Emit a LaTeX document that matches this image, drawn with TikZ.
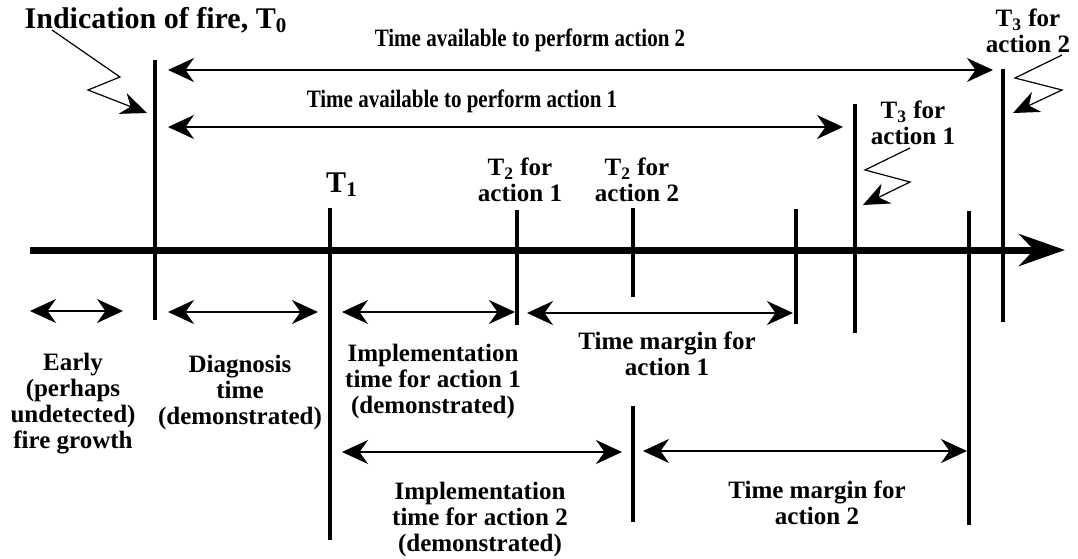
\documentclass[tikz,border=0pt]{standalone}
\usepackage{fontspec}
\setmainfont{Liberation Serif}
\usetikzlibrary{arrows.meta, positioning}

\begin{document}
\begin{tikzpicture}[x=0.5pt, y=-0.5pt]
  \tikzset{
    timeaxis/.style={
      line width=3.5pt,
      -{Stealth[length=23pt, width=16pt]}
    },
    tickline/.style={
      line width=2pt
    },
    timespan/.style={
      line width=0.8pt,
      {Stealth[length=13pt, width=12pt]}-{Stealth[length=13pt, width=12pt]}
    },
    zigzag/.style={
      line width=0.6pt,
      -{Stealth[length=13pt, width=11pt]}
    },
    txt/.style={
      font=\bfseries\fontsize{12.5}{13}\selectfont,
      align=center,
      inner sep=0pt
    },
    bigtxt/.style={
      font=\bfseries\fontsize{15}{18}\selectfont,
      inner sep=0pt
    }
  }
  \useasboundingbox (0,0) rectangle (1078,558);

  % Draw the time line
  \coordinate (axL) at (30,250);
  \coordinate (axR) at (1065,250);
  \draw[timeaxis] (axL) -- (axR);

  % Tick marks
  \foreach \x/\top/\bot in {155/60/320, 330/208/540, 517/210/325, 633/208/297,
      796/209/324, 855/104/333, 969/211/525, 1003/69/322, 633/406/522} {
    \draw[tickline] (\x,\top) -- (\x,\bot);
  }

  % Labels above the time line
  \node[bigtxt] at (156,20) (fire) {Indication of fire, T\textsubscript{0}};
  \node[txt] at (530,40) (avail2) {\scalebox{0.84}[1]{Time available to perform action 2}};
  \node[txt] at (462,101) (avail1) {\scalebox{0.84}[1]{Time available to perform action 1}};
  \node[txt] at (1028,31) (t3b) {T\textsubscript{3} for\\action 2};
  \node[txt] at (913,123) (t3a) {T\textsubscript{3} for\\action 1};
  \node[bigtxt] at (342,185) (t1) {T\textsubscript{1}};
  \node[txt] at (520,180) (t2a) {T\textsubscript{2} for\\action 1};
  \node[txt] at (637,180) (t2b) {T\textsubscript{2} for\\action 2};

  % Labels below the time line
  \node[txt] at (73,404) (early) {Early\\(perhaps\\undetected)\\fire growth};
  \node[txt] at (240,392) (diag) {Diagnosis\\time\\(demonstrated)};
  \node[txt] at (433,381) (impl1) {Implementation\\time for action 1\\(demonstrated)};
  \node[txt] at (667,354) (marg1) {Time margin for\\action 1};
  \node[txt] at (480,519) (impl2) {Implementation\\time for action 2\\(demonstrated)};
  \node[txt] at (817,503) (marg2) {Time margin for\\action 2};

  % Ends of the time spans
  \coordinate (av2L) at (168,70);
  \coordinate (av2R) at (993,70);
  \coordinate (av1L) at (168,127);
  \coordinate (av1R) at (843,127);
  \coordinate (earlyL) at (30,311);
  \coordinate (earlyR) at (123,311);
  \coordinate (diagL) at (168,312);
  \coordinate (diagR) at (318,312);
  \coordinate (impl1L) at (342,312);
  \coordinate (impl1R) at (515,312);
  \coordinate (marg1L) at (527,313);
  \coordinate (marg1R) at (793,313);
  \coordinate (impl2L) at (342,452);
  \coordinate (impl2R) at (622,452);
  \coordinate (marg2L) at (643,451);
  \coordinate (marg2R) at (967,451);

  \draw[timespan] (av2L) -- (av2R);
  \draw[timespan] (av1L) -- (av1R);
  \draw[timespan] (earlyL) -- (earlyR);
  \draw[timespan] (diagL) -- (diagR);
  \draw[timespan] (impl1L) -- (impl1R);
  \draw[timespan] (marg1L) -- (marg1R);
  \draw[timespan] (impl2L) -- (impl2R);
  \draw[timespan] (marg2L) -- (marg2R);

  % Zigzag pointers
  \coordinate (fireS) at (52,30);
  \coordinate (fireE) at (147,113);
  \coordinate (t3bS) at (1062,55);
  \coordinate (t3bE) at (1013,113);
  \coordinate (t3aS) at (910,148);
  \coordinate (t3aE) at (863,205);

  \draw[zigzag] (fireS) -- ++(68,47) -- ++(-32,13) -- (fireE);
  \draw[zigzag] (t3bS) -- ++(-47,23) -- ++(47,12) -- (t3bE);
  \draw[zigzag] (t3aS) -- ++(-45,22) -- ++(45,12) -- (t3aE);

\end{tikzpicture}
\end{document}
